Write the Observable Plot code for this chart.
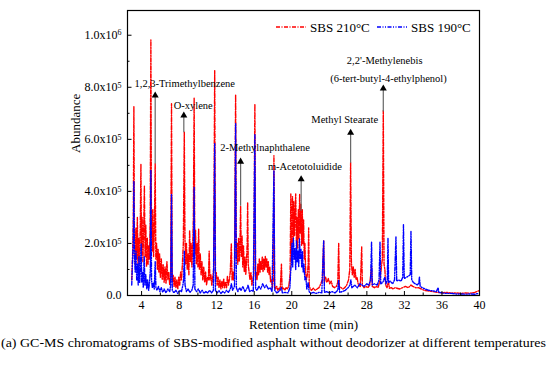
<!DOCTYPE html>
<html>
<head>
<meta charset="utf-8">
<script src="https://cdn.jsdelivr.net/npm/d3@7"></script>
<script src="https://cdn.jsdelivr.net/npm/@observablehq/plot@0.6"></script>
<style>
  body { margin: 0; background: #fff; }
  #chart svg { display: block; }
</style>
</head>
<body>
<div id="chart"></div>
<script>
// ---- Data (retention time in min, abundance in units of 10^3) ----
const sbs210 = [
[2.95,60],[3.05,160],[3.12,300],[3.18,726],[3.24,200],[3.32,120],[3.40,260],[3.47,140],[3.55,300],[3.62,110],[3.70,220],[3.78,130],[3.86,260],[3.93,505],[3.99,160],[4.06,300],[4.14,130],[4.22,250],[4.30,420],[4.37,150],[4.45,270],[4.53,110],[4.61,220],[4.69,120],[4.77,190],[4.85,140],[4.92,300],[4.99,982],[5.05,260],[5.12,170],[5.20,330],[5.28,150],[5.36,250],[5.45,507],[5.52,140],[5.60,200],[5.68,100],[5.76,180],[5.84,90],[5.92,160],[6.00,70],[6.10,140],[6.20,60],[6.30,120],[6.40,50],[6.50,110],[6.60,45],[6.70,130],[6.80,60],[6.90,90],[7.00,40],[7.10,70],[7.19,737],[7.26,50],[7.36,80],[7.46,35],[7.56,70],[7.66,30],[7.76,60],[7.86,25],[7.96,70],[8.06,40],[8.16,90],[8.26,60],[8.36,130],[8.45,200],[8.55,627],[8.62,220],[8.70,120],[8.78,200],[8.86,100],[8.95,160],[9.04,80],[9.12,250],[9.20,130],[9.28,200],[9.36,110],[9.44,180],[9.52,300],[9.60,760],[9.67,160],[9.75,250],[9.83,120],[9.92,200],[10.00,110],[10.08,255],[10.16,100],[10.25,160],[10.34,80],[10.43,130],[10.52,60],[10.62,110],[10.72,50],[10.82,90],[10.92,40],[11.02,70],[11.12,60],[11.20,170],[11.28,60],[11.38,80],[11.48,40],[11.58,70],[11.68,100],[11.79,864],[11.87,70],[11.96,90],[12.05,40],[12.15,70],[12.25,30],[12.35,60],[12.45,25],[12.55,55],[12.65,30],[12.75,65],[12.85,30],[12.95,50],[13.05,30],[13.15,75],[13.25,40],[13.35,60],[13.45,90],[13.56,200],[13.64,60],[13.72,90],[13.80,60],[13.90,110],[14.02,772],[14.09,140],[14.17,200],[14.25,120],[14.33,220],[14.41,130],[14.48,180],[14.55,345],[14.62,150],[14.70,230],[14.78,110],[14.86,190],[14.94,90],[15.02,150],[15.10,80],[15.18,130],[15.25,200],[15.30,358],[15.36,120],[15.45,90],[15.55,60],[15.65,90],[15.75,40],[15.85,60],[15.95,80],[16.07,736],[16.14,60],[16.22,90],[16.30,60],[16.38,120],[16.46,80],[16.54,140],[16.62,90],[16.70,130],[16.78,100],[16.86,150],[16.94,90],[17.02,140],[17.10,100],[17.18,150],[17.26,110],[17.34,140],[17.42,90],[17.50,130],[17.58,80],[17.66,110],[17.74,50],[17.84,60],[17.94,30],[18.02,60],[18.10,537],[18.17,40],[18.27,25],[18.40,35],[18.52,20],[18.64,30],[18.76,20],[18.90,120],[18.97,25],[19.10,30],[19.25,20],[19.40,30],[19.55,25],[19.70,40],[19.82,80],[19.90,390],[19.96,150],[20.03,300],[20.08,380],[20.14,200],[20.21,360],[20.28,230],[20.35,320],[20.42,390],[20.49,210],[20.56,300],[20.63,180],[20.70,330],[20.77,220],[20.84,390],[20.91,240],[20.98,350],[21.05,190],[21.12,330],[21.19,200],[21.26,290],[21.33,140],[21.40,200],[21.48,90],[21.56,60],[21.66,80],[21.75,120],[21.80,260],[21.86,40],[21.96,25],[22.10,20],[22.30,28],[22.50,20],[22.70,25],[22.90,30],[23.10,45],[23.25,60],[23.40,210],[23.47,50],[23.60,70],[23.75,50],[23.90,65],[24.05,45],[24.20,55],[24.35,35],[24.55,30],[24.75,35],[24.90,50],[25.00,200],[25.07,35],[25.25,30],[25.45,25],[25.65,30],[25.85,40],[26.05,60],[26.18,100],[26.27,510],[26.35,130],[26.45,80],[26.55,110],[26.65,70],[26.75,100],[26.85,60],[26.95,70],[27.10,40],[27.30,35],[27.45,187],[27.52,40],[27.70,30],[27.90,35],[28.10,30],[28.30,40],[28.50,110],[28.58,35],[28.80,30],[29.00,35],[29.20,30],[29.40,60],[29.55,110],[29.65,140],[29.75,710],[29.83,120],[29.92,100],[30.00,40],[30.15,30],[30.30,55],[30.40,28],[30.60,30],[30.80,25],[31.00,30],[31.20,28],[31.50,25],[31.80,30],[32.10,35],[32.40,30],[32.70,40],[32.90,35],[33.20,30],[33.50,30],[33.80,25],[34.10,20],[34.50,18],[35.00,15],[35.50,12],[36.00,10],[36.50,12],[37.00,9],[37.50,10],[38.00,8],[38.50,10],[39.00,9],[39.50,12],[39.90,18]
];
const sbs190 = [
[2.95,40],[3.05,146],[3.12,200],[3.18,440],[3.24,150],[3.32,90],[3.40,170],[3.48,60],[3.56,120],[3.64,40],[3.72,150],[3.80,50],[3.88,110],[3.95,200],[4.02,50],[4.10,90],[4.18,30],[4.28,150],[4.36,40],[4.45,80],[4.55,25],[4.65,60],[4.75,20],[4.85,50],[4.93,100],[4.99,480],[5.06,60],[5.15,30],[5.25,50],[5.35,25],[5.45,130],[5.53,30],[5.65,20],[5.80,35],[5.95,15],[6.10,30],[6.25,12],[6.40,25],[6.60,10],[6.80,25],[7.00,15],[7.10,40],[7.19,390],[7.27,20],[7.45,10],[7.65,20],[7.85,8],[8.05,20],[8.25,15],[8.40,40],[8.48,60],[8.55,170],[8.63,40],[8.78,15],[8.95,25],[9.15,12],[9.35,20],[9.50,40],[9.60,415],[9.68,25],[9.85,15],[10.05,25],[10.25,10],[10.45,20],[10.65,8],[10.85,15],[11.05,10],[11.25,20],[11.45,10],[11.65,20],[11.79,583],[11.87,20],[12.05,10],[12.25,18],[12.45,8],[12.65,15],[12.85,10],[13.05,20],[13.25,12],[13.45,25],[13.56,45],[13.70,20],[13.90,35],[14.02,660],[14.10,30],[14.25,15],[14.45,30],[14.60,20],[14.80,35],[15.00,15],[15.20,25],[15.35,40],[15.50,15],[15.70,20],[15.90,15],[16.07,620],[16.15,25],[16.30,20],[16.50,35],[16.70,25],[16.90,45],[17.10,30],[17.30,40],[17.50,25],[17.70,30],[17.90,15],[18.10,480],[18.18,20],[18.40,10],[18.60,15],[18.90,30],[19.00,10],[19.30,12],[19.60,10],[19.80,30],[19.88,90],[19.95,120],[20.02,200],[20.10,110],[20.18,220],[20.26,140],[20.34,180],[20.42,100],[20.50,210],[20.58,130],[20.66,170],[20.74,110],[20.82,220],[20.90,140],[20.98,180],[21.06,110],[21.14,170],[21.22,90],[21.30,120],[21.40,60],[21.50,70],[21.60,25],[21.75,50],[21.85,15],[22.00,8],[22.30,12],[22.60,8],[22.90,12],[23.20,10],[23.40,210],[23.48,12],[23.70,15],[24.00,10],[24.30,15],[24.60,10],[24.90,20],[25.00,60],[25.10,12],[25.40,15],[25.70,20],[26.00,30],[26.20,40],[26.30,60],[26.40,30],[26.70,40],[27.00,30],[27.25,45],[27.50,40],[27.70,35],[28.00,45],[28.20,40],[28.40,60],[28.50,206],[28.58,40],[28.80,45],[29.10,40],[29.30,60],[29.40,205],[29.48,45],[29.70,50],[29.90,70],[30.05,45],[30.18,60],[30.25,220],[30.32,50],[30.50,55],[30.75,45],[30.95,60],[31.10,225],[31.18,55],[31.40,60],[31.65,55],[31.82,70],[31.90,272],[31.98,65],[32.20,70],[32.45,75],[32.62,80],[32.70,246],[32.78,60],[32.95,50],[33.15,45],[33.40,40],[33.55,50],[33.60,72],[33.68,35],[33.90,30],[34.20,25],[34.60,20],[35.00,18],[35.40,15],[35.60,30],[35.66,12],[36.00,10],[36.50,8],[37.00,8],[37.50,6],[38.00,6],[38.50,5],[39.00,6],[39.50,5],[39.90,8]
];

// annotation arrows (time, from abundance, to abundance; units of 10^3)
const arrowT    = [5.45, 8.50, 14.55, 21.00, 26.27, 29.75];
const arrowFrom = [507, 627, 345, 326, 510, 707];
const arrowTo   = [776, 699, 522, 454, 633, 803];
// annotation labels
const labelText = ["1,2,3-Trimethylbenzene", "O-xylene", "2-Methylnaphthalene", "m-Acetotoluidide", "Methyl Stearate", "2,2'-Methylenebis", "(6-tert-butyl-4-ethylphenol)"];
const labelT    = [8.60, 9.50, 17.16, 21.40, 25.64, 29.90, 30.30];
const labelV    = [813, 730, 568, 495, 676, 903, 833];

const xTicks = [4, 8, 12, 16, 20, 24, 28, 32, 36, 40];
const xMinor = [6, 10, 14, 18, 22, 26, 30, 34, 38];
const yTicks = [0, 200000, 400000, 600000, 800000, 1000000];
const yMinor = [100000, 300000, 500000, 700000, 900000];
const seriesNames = ["SBS 210°C", "SBS 190°C"];
const seriesColors = ["#ff0000", "#0000ff"];
const caption = "(a) GC-MS chromatograms of SBS-modified asphalt without deodorizer at different temperatures";

// ---- build tables ----
const K = 1000;
const red = sbs210.map(([t, v]) => ({t, v: v * K}));
const blue = sbs190.map(([t, v]) => ({t, v: v * K}));
const arrows = arrowT.map((t, i) => ({t, from: arrowFrom[i] * K, to: arrowTo[i] * K}));
const labels = labelText.map((s, i) => ({s, t: labelT[i], v: labelV[i] * K}));

const fmt = d => {
  if (d === 0) return "0.0";
  const e = Math.floor(Math.log10(d) + 1e-9);
  return (d / Math.pow(10, e)).toFixed(1) + "x10^" + e;
};

const dashRed = "4,1.5,1,1.5";
const dashBlue = "4,1.5,1,1.5,1,1.5";
const serif = "'Liberation Serif', 'Times New Roman', serif";

const plot = Plot.plot({
  width: 550,
  height: 334,
  marginLeft: 127,
  marginRight: 71,
  marginTop: 10,
  marginBottom: 39,
  style: {fontFamily: serif, fontSize: "12px", color: "#000", background: "#fff"},
  x: {domain: [2.5, 40]},
  y: {domain: [0, 1095000]},
  marks: [
    Plot.line(red, {x: "t", y: "v", stroke: seriesColors[0], strokeWidth: 1.4, strokeDasharray: dashRed}),
    Plot.line(blue, {x: "t", y: "v", stroke: seriesColors[1], strokeWidth: 1.4, strokeDasharray: dashBlue}),
    Plot.link(arrows, {x1: "t", y1: "from", x2: "t", y2: "to", stroke: "#666", strokeWidth: 1.2}),
    Plot.dot(arrows, {x: "t", y: "to", symbol: "triangle", r: 2.6, fill: "#000", stroke: "none", dy: 2}),
    Plot.text(labels, {x: "t", y: "v", text: "s", fontSize: 10.5, fill: "#000"}),
    Plot.frame({stroke: "#000", strokeWidth: 1.2}),
    Plot.axisX({ticks: xTicks, tickSize: -4, tickPadding: 9, tickFormat: d => String(d), label: null, fontSize: 12}),
    Plot.axisX({ticks: xMinor, tickSize: -2.5, tickFormat: () => "", label: null}),
    Plot.axisY({ticks: yTicks, tickSize: -4.5, tickPadding: 10.5, tickFormat: fmt, label: null, fontSize: 12}),
    Plot.axisY({ticks: yMinor, tickSize: -2.5, tickFormat: () => "", label: null}),
    Plot.text(["Abundance"], {frameAnchor: "left", dx: -52, rotate: -90, fontSize: 13}),
    Plot.text(["Retention time (min)"], {frameAnchor: "bottom", dy: 33, fontSize: 13})
  ]
});

// superscripts on y tick labels
d3.select(plot).selectAll('g[aria-label="y-axis tick label"] text').each(function () {
  const s = this.textContent;
  if (s.includes("^")) {
    const [a, b] = s.split("^");
    const t = d3.select(this);
    t.text(a);
    t.append("tspan").attr("dy", "-0.45em").attr("font-size", "8px").text(b);
  }
});

// legend (inside top right)
const svg = d3.select(plot);
const lg = svg.append("g").attr("font-family", serif).attr("font-size", 13).attr("text-anchor", "start");
const legendItems = [
  {x: 276, name: seriesNames[0], color: seriesColors[0], dash: dashRed},
  {x: 377, name: seriesNames[1], color: seriesColors[1], dash: dashBlue}
];
legendItems.forEach(it => {
  lg.append("line").attr("x1", it.x).attr("x2", it.x + 30).attr("y1", 27).attr("y2", 27)
    .attr("stroke", it.color).attr("stroke-width", 1.3).attr("stroke-dasharray", it.dash);
  lg.append("text").attr("x", it.x + 34).attr("y", 31.5).attr("fill", "#000").attr("text-anchor", "start").text(it.name);
});

document.getElementById("chart").appendChild(plot);

// caption below
const cap = d3.select("#chart").append("svg").attr("width", 550).attr("height", 20);
cap.append("text").attr("x", 1).attr("y", 13).attr("font-family", serif).attr("font-size", 12.5)
  .attr("textLength", 545).attr("lengthAdjust", "spacingAndGlyphs").attr("fill", "#000").text(caption);
</script>
</body>
</html>
